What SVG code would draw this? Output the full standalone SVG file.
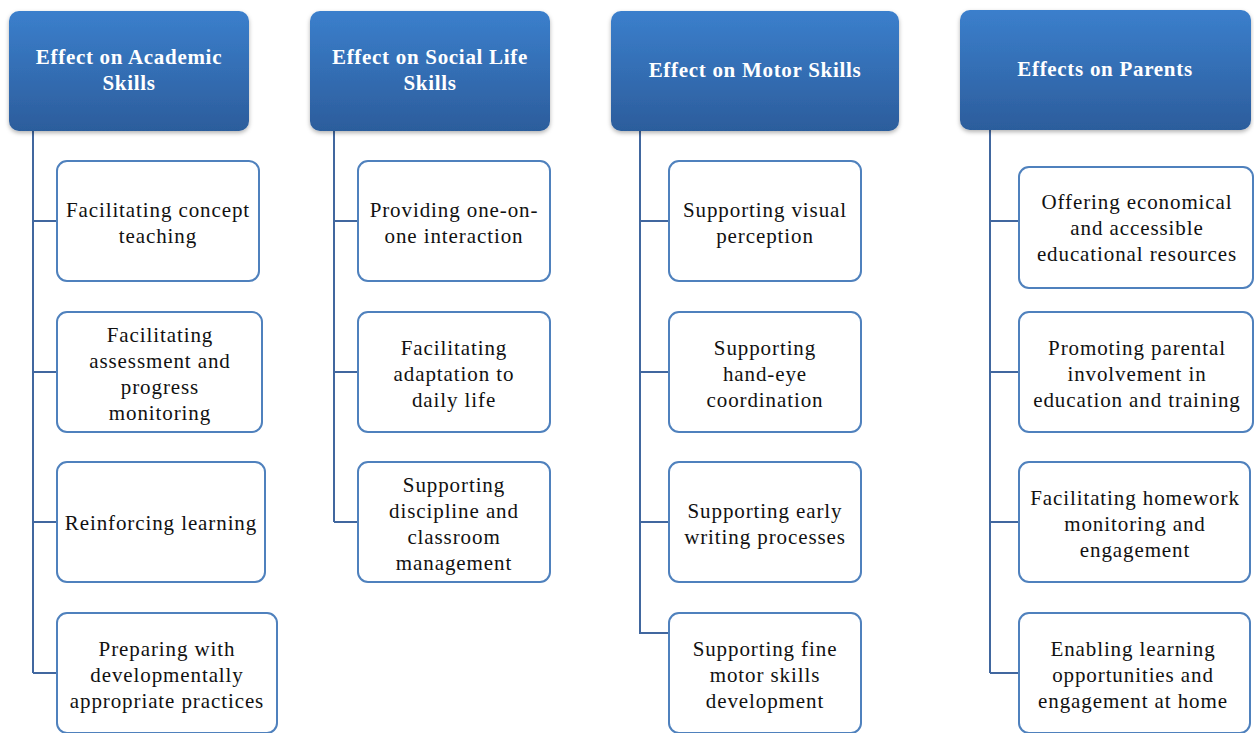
<svg xmlns="http://www.w3.org/2000/svg" width="1254" height="733" viewBox="0 0 1254 733">
<defs>
<linearGradient id="hg" x1="0" y1="0" x2="0" y2="1">
<stop offset="0" stop-color="#3b7fcc"/>
<stop offset="1" stop-color="#2c5d9c"/>
</linearGradient>
<filter id="sh" x="-10%" y="-10%" width="120%" height="130%">
<feDropShadow dx="0" dy="2" stdDeviation="2" flood-color="#000" flood-opacity="0.3"/>
</filter>
<style>
.hd{fill:url(#hg);filter:url(#sh);}
.ht{fill:#fff;font-family:"Liberation Serif","DejaVu Serif",serif;font-weight:bold;font-size:21px;text-anchor:middle;letter-spacing:0.7px;}
.bx{fill:#fff;stroke:#4f81bd;stroke-width:2;}
.bt{fill:#111;font-family:"Liberation Serif","DejaVu Serif",serif;font-size:21px;text-anchor:middle;letter-spacing:0.9px;}
.cn{fill:none;stroke:#41679f;stroke-width:2;}
</style>
</defs>
<rect width="1254" height="733" fill="#fff"/>
<g id="connectors">
<path class="cn" d="M33 131V673M33 221H57M33 372H57M33 522H57M33 673H57"/>
<path class="cn" d="M334 131V522M334 221H358M334 372H358M334 522H358"/>
<path class="cn" d="M640 131V633H669"/>
<path class="cn" d="M640 221H669M640 372H669M640 522H669"/>
<path class="cn" d="M990 130V673M990 221H1019M990 372H1019M990 522H1019M990 673H1019"/>
</g>
<g id="h1"><rect class="hd" x="9" y="11" width="240" height="120" rx="10"/><text class="ht" x="129" y="64">Effect on Academic</text><text class="ht" x="129" y="90">Skills</text></g>
<g id="h2"><rect class="hd" x="310" y="11" width="240" height="120" rx="10"/><text class="ht" x="430" y="64">Effect on Social Life</text><text class="ht" x="430" y="90">Skills</text></g>
<g id="h3"><rect class="hd" x="611" y="11" width="288" height="120" rx="10"/><text class="ht" x="755" y="77">Effect on Motor Skills</text></g>
<g id="h4"><rect class="hd" x="960" y="10" width="291" height="120" rx="10"/><text class="ht" x="1105" y="76">Effects on Parents</text></g>

<g id="a1"><rect class="bx" x="57" y="161" width="202" height="120" rx="10"/><text class="bt" x="158" y="217">Facilitating concept</text><text class="bt" x="158" y="243">teaching</text></g>
<g id="a2"><rect class="bx" x="57" y="312" width="205" height="120" rx="10"/><text class="bt" x="160" y="342">Facilitating</text><text class="bt" x="160" y="368">assessment and</text><text class="bt" x="160" y="394">progress</text><text class="bt" x="160" y="420">monitoring</text></g>
<g id="a3"><rect class="bx" x="57" y="462" width="208" height="120" rx="10"/><text class="bt" x="161" y="530">Reinforcing learning</text></g>
<g id="a4"><rect class="bx" x="57" y="613" width="220" height="120" rx="10"/><text class="bt" x="167" y="656">Preparing with</text><text class="bt" x="167" y="682">developmentally</text><text class="bt" x="167" y="708">appropriate practices</text></g>

<g id="b1"><rect class="bx" x="358" y="161" width="192" height="120" rx="10"/><text class="bt" x="454" y="217">Providing one-on-</text><text class="bt" x="454" y="243">one interaction</text></g>
<g id="b2"><rect class="bx" x="358" y="312" width="192" height="120" rx="10"/><text class="bt" x="454" y="355">Facilitating</text><text class="bt" x="454" y="381">adaptation to</text><text class="bt" x="454" y="407">daily life</text></g>
<g id="b3"><rect class="bx" x="358" y="462" width="192" height="120" rx="10"/><text class="bt" x="454" y="492">Supporting</text><text class="bt" x="454" y="518">discipline and</text><text class="bt" x="454" y="544">classroom</text><text class="bt" x="454" y="570">management</text></g>

<g id="c1"><rect class="bx" x="669" y="161" width="192" height="120" rx="10"/><text class="bt" x="765" y="217">Supporting visual</text><text class="bt" x="765" y="243">perception</text></g>
<g id="c2"><rect class="bx" x="669" y="312" width="192" height="120" rx="10"/><text class="bt" x="765" y="355">Supporting</text><text class="bt" x="765" y="381">hand-eye</text><text class="bt" x="765" y="407">coordination</text></g>
<g id="c3"><rect class="bx" x="669" y="462" width="192" height="120" rx="10"/><text class="bt" x="765" y="518">Supporting early</text><text class="bt" x="765" y="544">writing processes</text></g>
<g id="c4"><rect class="bx" x="669" y="613" width="192" height="120" rx="10"/><text class="bt" x="765" y="656">Supporting fine</text><text class="bt" x="765" y="682">motor skills</text><text class="bt" x="765" y="708">development</text></g>

<g id="d1"><rect class="bx" x="1019" y="167" width="234" height="121" rx="10"/><text class="bt" x="1137" y="209">Offering economical</text><text class="bt" x="1137" y="235">and accessible</text><text class="bt" x="1137" y="261">educational resources</text></g>
<g id="d2"><rect class="bx" x="1019" y="312" width="234" height="120" rx="10"/><text class="bt" x="1137" y="355">Promoting parental</text><text class="bt" x="1137" y="381">involvement in</text><text class="bt" x="1137" y="407">education and training</text></g>
<g id="d3"><rect class="bx" x="1019" y="462" width="231" height="120" rx="10"/><text class="bt" x="1135" y="505">Facilitating homework</text><text class="bt" x="1135" y="531">monitoring and</text><text class="bt" x="1135" y="557">engagement</text></g>
<g id="d4"><rect class="bx" x="1019" y="613" width="231" height="120" rx="10"/><text class="bt" x="1133" y="656">Enabling learning</text><text class="bt" x="1133" y="682">opportunities and</text><text class="bt" x="1133" y="708">engagement at home</text></g>
</svg>
